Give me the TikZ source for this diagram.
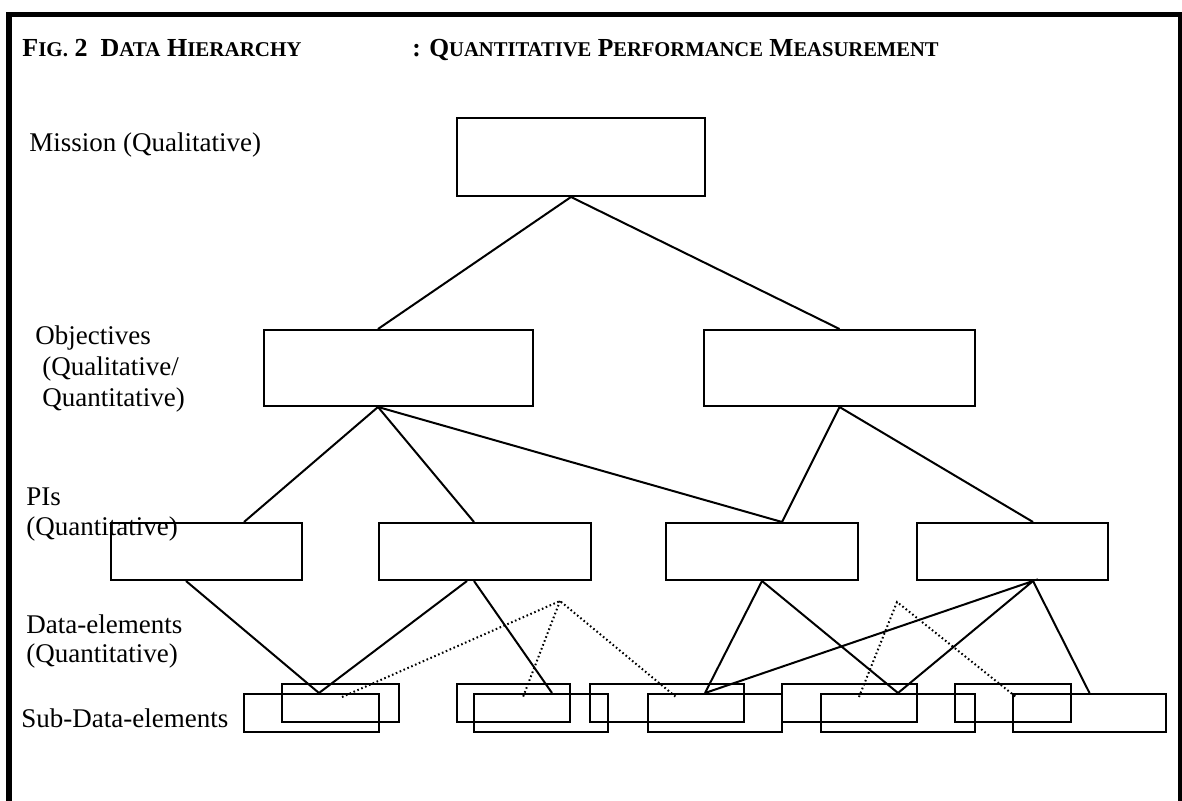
\documentclass[tikz,border=0pt]{standalone}
\usepackage{fontspec}
\setmainfont{Liberation Serif}
\newcommand{\capsm}[2]{{\fontsize{13}{15}\selectfont #1}{\fontsize{10.5}{12}\selectfont #2}}
\begin{document}
\begin{tikzpicture}[x=0.5pt, y=-0.5pt,
  blk/.style={draw, line width=1pt, inner sep=0pt, minimum height=#1},
  lbl/.style={anchor=base west, inner sep=0pt, font=\fontsize{13.5}{15}\selectfont},
  ttl/.style={anchor=base west, inner sep=0pt, font=\bfseries\fontsize{13}{15}\selectfont},
  link/.style={line width=1pt},
  dots/.style={line width=1pt, dash pattern=on 0.8pt off 1.3pt}]
\useasboundingbox (0,0) rectangle (1182,801);
\draw[line width=2.75pt, line join=miter] (9,801) -- (9,14.5) -- (1180.5,14.5) -- (1180.5,801);
\node[ttl] (title) at (22,57) {\capsm{F}{IG.} 2\ \ \capsm{D}{ATA} \capsm{H}{IERARCHY}};
\node[ttl] (subtitle) at (412,57) {\scalebox{0.98}[1]{: \capsm{Q}{UANTITATIVE} \capsm{P}{ERFORMANCE} \capsm{M}{EASUREMENT}}};
\node[lbl] (lmission) at (29,152) {Mission (Qualitative)};
\node[lbl] (lobj) at (35,345) {Objectives};
\node[lbl] (lobjb) at (42,376) {(Qualitative/};
\node[lbl] (lobjc) at (42,407) {Quantitative)};
\node[lbl] (lpi) at (26,505) {PIs};
\node[lbl] (lpib) at (26,535) {(Quantitative)};
\node[lbl] (ldata) at (26,633) {Data-elements};
\node[lbl] (ldatab) at (26,662) {(Quantitative)};
\node[lbl] (lsub) at (21,727) {Sub-Data-elements};
\node[blk=39pt, minimum width=124pt] (mission) at (581,157) {};
\node[blk=38pt, minimum width=134.5pt] (objl) at (398.5,368) {};
\node[blk=38pt, minimum width=135.5pt] (objr) at (839.5,368) {};
\node[blk=28.5pt, minimum width=95.5pt] (pia) at (206.5,551.5) {};
\node[blk=28.5pt, minimum width=106pt] (pib) at (485,551.5) {};
\node[blk=28.5pt, minimum width=96pt] (pic) at (762,551.5) {};
\node[blk=28.5pt, minimum width=95.5pt] (pid) at (1012.5,551.5) {};
\node[blk=19pt, minimum width=58.5pt] (upa) at (340.5,703) {};
\node[blk=19pt, minimum width=56.5pt] (upb) at (513.5,703) {};
\node[blk=19pt, minimum width=77pt] (upc) at (667,703) {};
\node[blk=19pt, minimum width=67.5pt] (upd) at (849.5,703) {};
\node[blk=19pt, minimum width=58pt] (upe) at (1013,703) {};
\node[blk=19pt, minimum width=67.5pt] (suba) at (311.5,713) {};
\node[blk=19pt, minimum width=67pt] (subb) at (541,713) {};
\node[blk=19pt, minimum width=67pt] (subc) at (715,713) {};
\node[blk=19pt, minimum width=77pt] (subd) at (898,713) {};
\node[blk=19pt, minimum width=76.5pt] (sube) at (1089.5,713) {};
\draw[link] ([xshift=-10.25pt]objl.north) -- ([xshift=-5pt]mission.south) -- (objr.north);
\draw[link] ([xshift=18.75pt]pia.north) -- ([xshift=-10.25pt]objl.south) -- ([xshift=-5.5pt]pib.north);
\draw[link] ([xshift=-10.25pt]objl.south) -- ([xshift=10pt]pic.north) -- (objr.south) -- ([xshift=10.25pt]pid.north);
\draw[link] ([xshift=-10.25pt]pia.south) -- ([xshift=3.75pt]suba.north) -- ([xshift=-9pt]pib.south);
\draw[link] ([xshift=-5.5pt]pib.south) -- ([xshift=5.5pt]subb.north);
\draw[link] ([xshift=-5pt]subc.north) -- (pic.south) -- (subd.north);
\draw[link] ([xshift=-5pt]subc.north) -- ([xshift=10.25pt]pid.south) -- (subd.north);
\draw[link] ([xshift=10.25pt]pid.south) -- (sube.north);
\coordinate (apexa) at (560,601);
\coordinate (apexb) at (897,602);
\draw[dots] ([xshift=15.25pt,yshift=-2pt]suba.north) -- (apexa) -- ([xshift=-19.5pt,yshift=-2pt]subc.north);
\draw[dots] (apexa) -- ([xshift=-9pt,yshift=-2pt]subb.north);
\draw[dots] ([xshift=-19.5pt,yshift=-2pt]subd.north) -- (apexb) -- ([xshift=-36.75pt,yshift=-2pt]sube.north);
\end{tikzpicture}
\end{document}
